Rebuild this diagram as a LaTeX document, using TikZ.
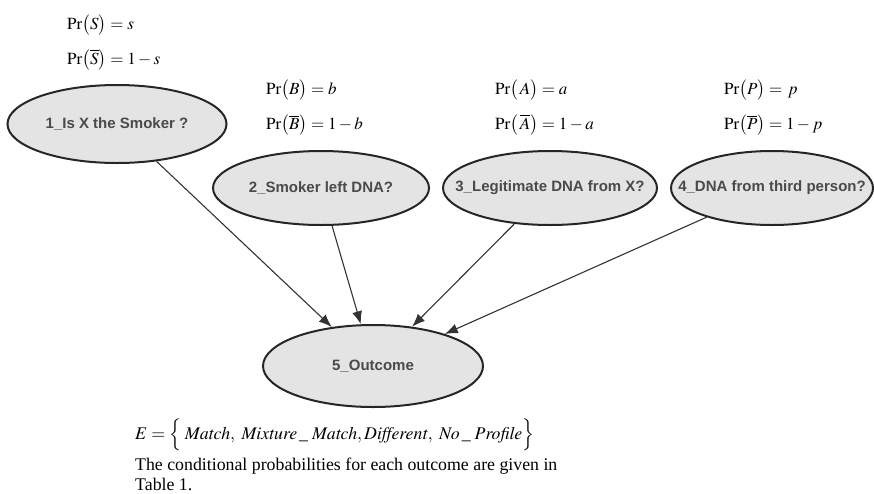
\documentclass[tikz,border=0pt]{standalone}
\usepackage{mathptmx}
\usepackage[no-math]{fontspec}
\setmainfont{Liberation Serif}
\newfontfamily\arialfont{Liberation Sans}
\usetikzlibrary{shapes.geometric,arrows.meta}
\definecolor{nodefill}{HTML}{E4E4E4}
\definecolor{nodeline}{HTML}{262626}
\definecolor{nodetext}{HTML}{4A4A4A}
\tikzset{
  bnode/.style={ellipse, draw=nodeline, fill=nodefill, line width=2pt, inner sep=0pt},
  btext/.style={text=nodetext, inner sep=0pt, font=\arialfont\bfseries\fontsize{15}{17}\selectfont},
  link/.style={draw=black!80, line width=1.1pt, -{Latex[length=13pt,width=10pt]}},
  prob/.style={anchor=west, inner sep=0pt, font=\fontsize{17}{19}\selectfont},
  capt/.style={anchor=west, inner sep=0pt, font=\fontsize{17.8}{19}\selectfont}
}
\begin{document}
\begin{tikzpicture}[x=1pt,y=-1pt]
\useasboundingbox (0,0) rectangle (874,493);
% probability labels
\node[prob] (ps)  at (67,25)  {$\mathrm{Pr}\bigl(S\bigr)=s$};
\node[prob] (psn) at (67,60)  {$\mathrm{Pr}\bigl(\overline{S}\bigr)=1-s$};
\node[prob] (pb)  at (266,90) {$\mathrm{Pr}\bigl(B\bigr)=b$};
\node[prob] (pbn) at (266,125){$\mathrm{Pr}\bigl(\overline{B}\bigr)=1-b$};
\node[prob] (pa)  at (495,90) {$\mathrm{Pr}\bigl(\,A\bigr)=a$};
\node[prob] (pan) at (495,125){$\mathrm{Pr}\bigl(\,\overline{A}\bigr)=1-a$};
\node[prob] (pp)  at (724,90) {$\mathrm{Pr}\bigl(P\bigr)=\,p$};
\node[prob] (ppn) at (724,125){$\mathrm{Pr}\bigl(\overline{P}\bigr)=1-p$};
% nodes (ellipse sizes fixed; text placed on top so it does not enlarge them)
\node[bnode, minimum width=219pt, minimum height=78pt] (n1) at (117,124) {};
\node[bnode, minimum width=216pt, minimum height=74pt] (n2) at (321,188) {};
\node[bnode, minimum width=214pt, minimum height=74pt] (n3) at (550,188) {};
\node[bnode, minimum width=202pt, minimum height=74pt] (n4) at (772,188) {};
\node[bnode, minimum width=220pt, minimum height=82pt] (n5) at (373,366) {};
\node[btext] (t1) at (n1.center) {1\_Is X the Smoker ?};
\node[btext] (t2) at (n2.center) {2\_Smoker left DNA?};
\node[btext] (t3) at (n3.center) {3\_Legitimate DNA from X?};
\node[btext] (t4) at (n4.center) {4\_DNA from third person?};
\node[btext] (t5) at (n5.center) {5\_Outcome};
% links
\draw[link] (n1) -- (n5);
\draw[link] (n2) -- (n5);
\draw[link] (n3) -- (n5);
\draw[link] (n4) -- (n5);
% caption
\node[capt] (ev) at (135,435) {$E=\Bigl\{\;\mathit{Match},\ \mathit{Mixture}\,\_\;\mathit{Match},\mathit{Different},\ \mathit{No}\,\_\;\mathit{Profile}\Bigr\}$};
\node[capt] (c1) at (135,466) {The conditional probabilities for each outcome are given in};
\node[capt] (c2) at (135,484) {Table 1.};
\end{tikzpicture}
\end{document}
